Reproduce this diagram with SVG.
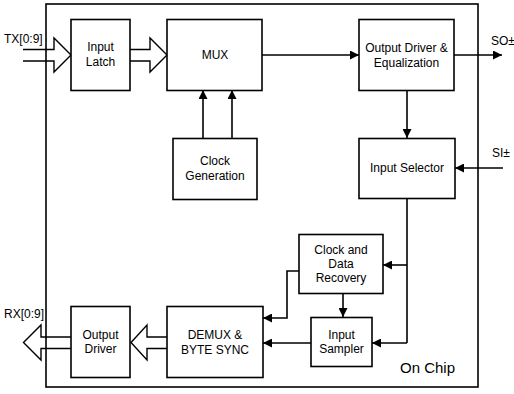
<svg xmlns="http://www.w3.org/2000/svg" width="514" height="394" viewBox="0 0 514 394">
<defs>
<marker id="ah" viewBox="0 0 10 10" refX="10" refY="5" markerWidth="9" markerHeight="9" markerUnits="userSpaceOnUse" orient="auto">
<path d="M0,0 L10,5 L0,10 Z" fill="#000"/>
</marker>
</defs>
<style>
.box{fill:#fff;stroke:#000;stroke-width:1.6}
.t{font-family:"Liberation Sans",Arial,sans-serif;font-size:12px;fill:#000;text-anchor:middle}
.l{font-family:"Liberation Sans",Arial,sans-serif;font-size:12px;fill:#000}
.c{fill:none;stroke:#000;stroke-width:1.6}
.a{marker-end:url(#ah)}
.h{fill:none;stroke:#000;stroke-width:1.4;stroke-linejoin:miter}
</style>
<rect width="514" height="394" fill="#fff"/>
<g id="chip">
<rect x="46" y="4" width="432" height="383" fill="none" stroke="#000" stroke-width="1.6"/>
<text x="400" y="373" class="l" style="font-size:15px">On Chip</text>
</g>
<g id="connectors">
<path class="c a" d="M262,55 H359"/>
<path class="c a" d="M454,55 H502"/>
<path class="c a" d="M407,90 V138"/>
<path class="c a" d="M503,168 H455"/>
<path class="c a" d="M203,138 V90"/>
<path class="c a" d="M232,138 V90"/>
<path class="c" d="M407,199 V343"/>
<path class="c a" d="M407,265 H383"/>
<path class="c a" d="M407,343 H372"/>
<path class="c a" d="M343,294 V317"/>
<path class="c a" d="M299,271 H287 V318 H263"/>
<path class="c a" d="M311,343 H263"/>
<path class="h" d="M23,49.5 H54 V38 L71,55 L54,72 V61 H23"/>
<path class="h" d="M130,49.5 H150 V38 L167,55 L150,72 V61 H130"/>
<path class="h" d="M167,337 H147 V325 L131,342.5 L147,360 V348.5 H167"/>
<path class="h" d="M71,337 H41 V325 L23.5,342.5 L41,360 V348.5 H71"/>
<text x="4" y="43" class="l">TX[0:9]</text>
<text x="4" y="318" class="l">RX[0:9]</text>
<text x="491" y="45" class="l">SO±</text>
<text x="492" y="157" class="l">SI±</text>
</g>
<g id="input-latch">
<rect class="box" x="71" y="19.5" width="59" height="71"/>
<text class="t" x="100.5" y="51">Input</text>
<text class="t" x="100.5" y="66">Latch</text>
</g>
<g id="mux">
<rect class="box" x="167" y="19.5" width="95" height="71"/>
<text class="t" x="215" y="59">MUX</text>
</g>
<g id="output-driver-eq">
<rect class="box" x="359" y="19.5" width="95" height="71"/>
<text class="t" x="406.5" y="52">Output Driver &amp;</text>
<text class="t" x="406.5" y="67">Equalization</text>
</g>
<g id="clock-generation">
<rect class="box" x="173" y="138.5" width="84" height="61"/>
<text class="t" x="215" y="165">Clock</text>
<text class="t" x="215" y="180">Generation</text>
</g>
<g id="input-selector">
<rect class="box" x="359" y="138.5" width="96" height="60"/>
<text class="t" x="407" y="172">Input Selector</text>
</g>
<g id="cdr">
<rect class="box" x="299" y="234.5" width="84" height="59"/>
<text class="t" x="341" y="254">Clock and</text>
<text class="t" x="341" y="268">Data</text>
<text class="t" x="341" y="282">Recovery</text>
</g>
<g id="input-sampler">
<rect class="box" x="311" y="317.5" width="61" height="49"/>
<text class="t" x="341.5" y="339">Input</text>
<text class="t" x="341.5" y="353">Sampler</text>
</g>
<g id="demux">
<rect class="box" x="167" y="306.5" width="96" height="71"/>
<text class="t" x="215" y="339">DEMUX &amp;</text>
<text class="t" x="215" y="354">BYTE SYNC</text>
</g>
<g id="output-driver">
<rect class="box" x="71" y="306.5" width="59" height="71"/>
<text class="t" x="100.5" y="339">Output</text>
<text class="t" x="100.5" y="353">Driver</text>
</g>
</svg>
